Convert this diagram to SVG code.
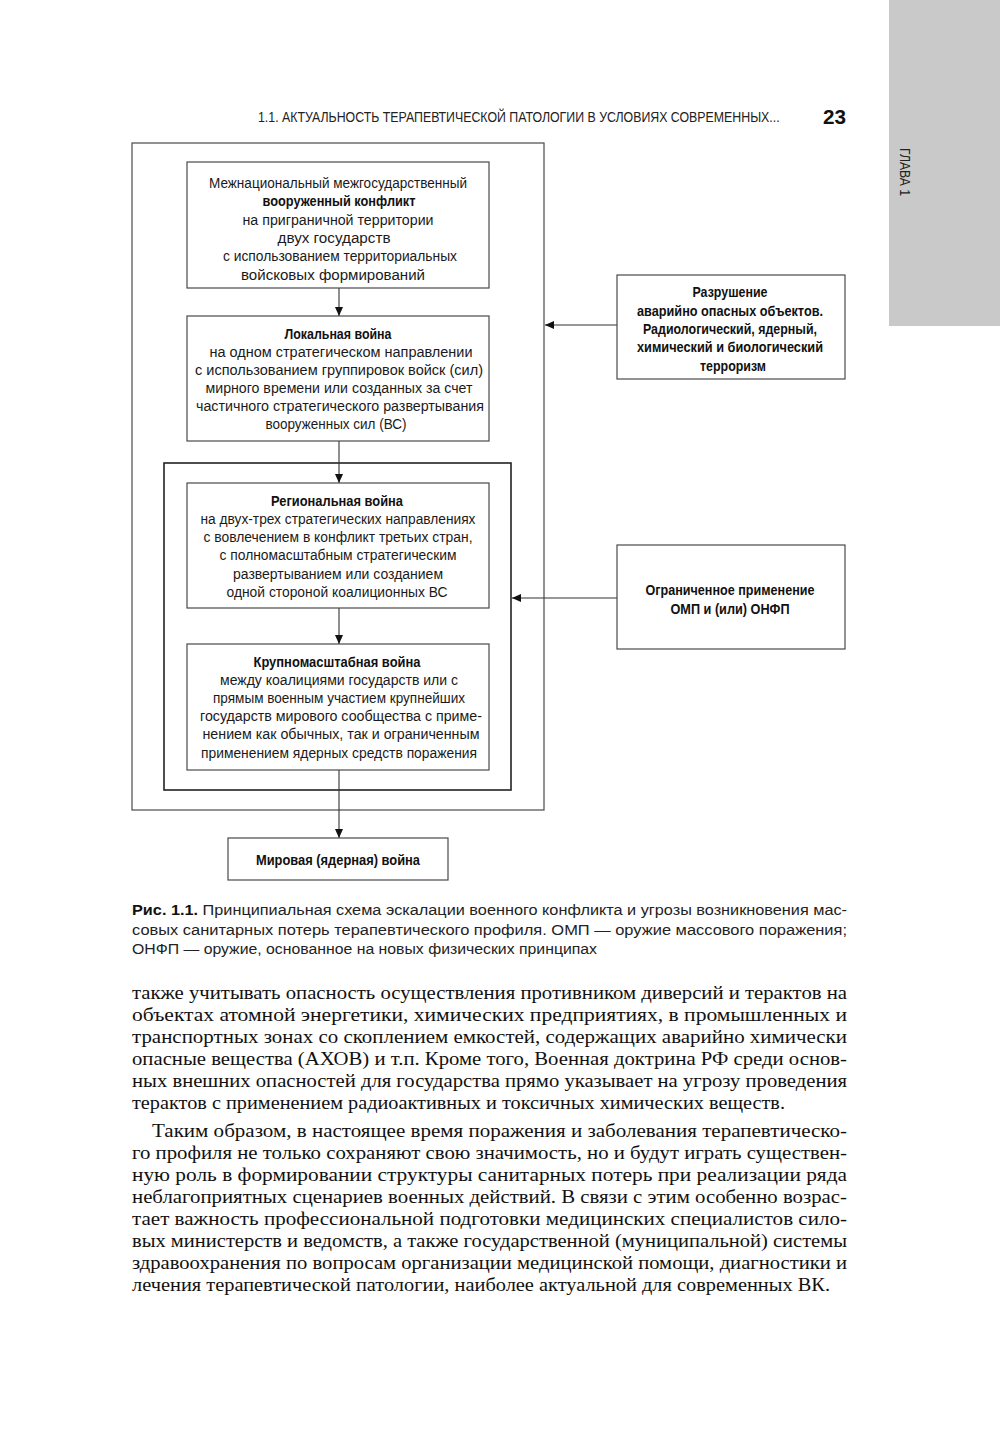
<svg xmlns="http://www.w3.org/2000/svg" width="1000" height="1429" viewBox="0 0 1000 1429">
<style>
.bg{fill:#ffffff}
.box{fill:#ffffff;stroke:#4a4a4a;stroke-width:1.2}
.frame{fill:none;stroke:#4a4a4a;stroke-width:1.2}
.frame2{fill:none;stroke:#222;stroke-width:1.6}
.t{font-family:"Liberation Sans Narrow","Liberation Sans",Arial,sans-serif;font-size:15.5px;fill:#1a1a1a;text-anchor:middle}
.b{font-weight:bold;fill:#111}
.cap{font-family:"Liberation Sans Narrow","Liberation Sans",Arial,sans-serif;font-size:15.5px;fill:#222}
.hdr{font-family:"Liberation Sans Narrow","Liberation Sans",Arial,sans-serif;font-size:14px;fill:#222}
.body{font-family:"Liberation Serif","Times New Roman",serif;font-size:19px;fill:#111}
.conn{stroke:#333;stroke-width:1.1;fill:none}
</style>
<defs>
<marker id="ah" markerWidth="10" markerHeight="8" refX="9" refY="4" orient="auto" markerUnits="userSpaceOnUse">
<path d="M0,0 L9,4 L0,8 Z" fill="#111"/>
</marker>
</defs>
<rect class="bg" x="0" y="0" width="1000" height="1429"/>

<!-- Page decorations -->
<rect x="889" y="0" width="111" height="326" fill="#c9c9c9"/>
<text class="hdr" transform="translate(900,148) rotate(90)" font-size="13" textLength="48" lengthAdjust="spacingAndGlyphs">ГЛАВА 1</text>
<text class="hdr" transform="translate(258,122) scale(0.8,1)" x="0" y="0" textLength="652" lengthAdjust="spacingAndGlyphs">1.1. АКТУАЛЬНОСТЬ ТЕРАПЕВТИЧЕСКОЙ ПАТОЛОГИИ В УСЛОВИЯХ СОВРЕМЕННЫХ...</text>
<text x="823" y="124" font-family="Liberation Sans Narrow,Liberation Sans,Arial,sans-serif" font-size="20" font-weight="bold" fill="#111" textLength="23" lengthAdjust="spacingAndGlyphs">23</text>

<!-- Frames -->
<rect class="frame" x="132" y="143" width="412" height="667"/>
<rect class="frame2" x="164" y="463" width="347" height="327"/>

<!-- Connectors -->
<g id="connectors">
<line class="conn" x1="339" y1="288" x2="339" y2="316" marker-end="url(#ah)"/>
<line class="conn" x1="339" y1="441" x2="339" y2="483" marker-end="url(#ah)"/>
<line class="conn" x1="339" y1="608" x2="339" y2="644" marker-end="url(#ah)"/>
<line class="conn" x1="339" y1="770" x2="339" y2="838" marker-end="url(#ah)"/>
<line class="conn" x1="617" y1="325" x2="545" y2="325" marker-end="url(#ah)"/>
<line class="conn" x1="617" y1="598" x2="512" y2="598" marker-end="url(#ah)"/>
</g>

<g id="node1">
<rect class="box" x="187" y="162" width="302" height="126"/>
<text class="t" x="338" y="188" textLength="258" lengthAdjust="spacingAndGlyphs">Межнациональный межгосударственный</text>
<text class="t b" x="339" y="206" textLength="153" lengthAdjust="spacingAndGlyphs">вооруженный конфликт</text>
<text class="t" x="338" y="224.5" textLength="191" lengthAdjust="spacingAndGlyphs">на приграничной территории</text>
<text class="t" x="334" y="243" textLength="113" lengthAdjust="spacingAndGlyphs">двух государств</text>
<text class="t" x="340" y="261" textLength="234" lengthAdjust="spacingAndGlyphs">с использованием территориальных</text>
<text class="t" x="333" y="279.5" textLength="184" lengthAdjust="spacingAndGlyphs">войсковых формирований</text>
</g>

<g id="node2">
<rect class="box" x="187" y="316" width="302" height="125"/>
<text class="t b" x="338" y="339" textLength="107" lengthAdjust="spacingAndGlyphs">Локальная война</text>
<text class="t" x="341" y="357" textLength="263" lengthAdjust="spacingAndGlyphs">на одном стратегическом  направлении</text>
<text class="t" x="339" y="375" textLength="288" lengthAdjust="spacingAndGlyphs">с использованием группировок войск (сил)</text>
<text class="t" x="339" y="393" textLength="267" lengthAdjust="spacingAndGlyphs">мирного времени или созданных за счет</text>
<text class="t" x="340" y="411" textLength="288" lengthAdjust="spacingAndGlyphs">частичного стратегического развертывания</text>
<text class="t" x="336" y="429" textLength="141" lengthAdjust="spacingAndGlyphs">вооруженных сил (ВС)</text>
</g>

<g id="node3">
<rect class="box" x="187" y="483" width="302" height="125"/>
<text class="t b" x="337" y="506" textLength="132" lengthAdjust="spacingAndGlyphs">Региональная война</text>
<text class="t" x="338" y="524" textLength="275" lengthAdjust="spacingAndGlyphs">на двух-трех стратегических направлениях</text>
<text class="t" x="338" y="542" textLength="269" lengthAdjust="spacingAndGlyphs">с вовлечением в конфликт третьих стран,</text>
<text class="t" x="338" y="560" textLength="237" lengthAdjust="spacingAndGlyphs">с полномасштабным стратегическим</text>
<text class="t" x="338" y="578.5" textLength="210" lengthAdjust="spacingAndGlyphs">развертыванием или созданием</text>
<text class="t" x="337" y="597" textLength="221" lengthAdjust="spacingAndGlyphs">одной стороной коалиционных ВС</text>
</g>

<g id="node4">
<rect class="box" x="187" y="644" width="302" height="126"/>
<text class="t b" x="337" y="667" textLength="167" lengthAdjust="spacingAndGlyphs">Крупномасштабная война</text>
<text class="t" x="339" y="685" textLength="238" lengthAdjust="spacingAndGlyphs">между коалициями государств или с</text>
<text class="t" x="339" y="703" textLength="252" lengthAdjust="spacingAndGlyphs">прямым военным участием крупнейших</text>
<text class="t" x="341" y="721" textLength="282" lengthAdjust="spacingAndGlyphs">государств мирового сообщества с приме-</text>
<text class="t" x="341" y="739" textLength="277" lengthAdjust="spacingAndGlyphs">нением как обычных, так и ограниченным</text>
<text class="t" x="339" y="757.5" textLength="276" lengthAdjust="spacingAndGlyphs">применением ядерных средств поражения</text>
</g>

<g id="node5">
<rect class="box" x="228" y="838" width="220" height="42"/>
<text class="t b" x="338" y="865" textLength="164" lengthAdjust="spacingAndGlyphs">Мировая (ядерная) война</text>
</g>

<g id="node6">
<rect class="box" x="617" y="275" width="228" height="104"/>
<text class="t b" x="730" y="297" textLength="75" lengthAdjust="spacingAndGlyphs">Разрушение</text>
<text class="t b" x="730" y="315.5" textLength="186" lengthAdjust="spacingAndGlyphs">аварийно опасных объектов.</text>
<text class="t b" x="730" y="334" textLength="174" lengthAdjust="spacingAndGlyphs">Радиологический, ядерный,</text>
<text class="t b" x="730" y="352" textLength="186" lengthAdjust="spacingAndGlyphs">химический и биологический</text>
<text class="t b" x="733" y="370.5" textLength="66" lengthAdjust="spacingAndGlyphs">терроризм</text>
</g>

<g id="node7">
<rect class="box" x="617" y="545" width="228" height="104"/>
<text class="t b" x="730" y="595" textLength="169" lengthAdjust="spacingAndGlyphs">Ограниченное применение</text>
<text class="t b" x="730" y="613.5" textLength="119" lengthAdjust="spacingAndGlyphs">ОМП и (или) ОНФП</text>
</g>

<!-- Caption -->
<text class="cap" x="132" y="915" textLength="715" lengthAdjust="spacingAndGlyphs"><tspan font-weight="bold" fill="#111">Рис. 1.1.</tspan> Принципиальная схема эскалации военного конфликта и угрозы возникновения мас-</text>
<text class="cap" x="132" y="934.5" textLength="715" lengthAdjust="spacingAndGlyphs">совых санитарных потерь терапевтического профиля. ОМП — оружие массового поражения;</text>
<text class="cap" x="132" y="954" textLength="465" lengthAdjust="spacingAndGlyphs">ОНФП — оружие, основанное на новых физических принципах</text>

<!-- Body text -->
<text class="body" x="132" y="999" textLength="715" lengthAdjust="spacingAndGlyphs">также учитывать опасность осуществления противником диверсий и терактов на</text>
<text class="body" x="132" y="1021" textLength="715" lengthAdjust="spacingAndGlyphs">объектах атомной энергетики, химических предприятиях, в промышленных и</text>
<text class="body" x="132" y="1043" textLength="715" lengthAdjust="spacingAndGlyphs">транспортных зонах со скоплением емкостей, содержащих аварийно химически</text>
<text class="body" x="132" y="1065" textLength="715" lengthAdjust="spacingAndGlyphs">опасные вещества (АХОВ) и т.п. Кроме того, Военная доктрина РФ среди основ-</text>
<text class="body" x="132" y="1087" textLength="715" lengthAdjust="spacingAndGlyphs">ных внешних опасностей для государства прямо указывает на угрозу проведения</text>
<text class="body" x="132" y="1109" textLength="653" lengthAdjust="spacingAndGlyphs">терактов с применением радиоактивных и токсичных химических веществ.</text>
<text class="body" x="152" y="1137" textLength="695" lengthAdjust="spacingAndGlyphs">Таким образом, в настоящее время поражения и заболевания терапевтическо-</text>
<text class="body" x="132" y="1159" textLength="715" lengthAdjust="spacingAndGlyphs">го профиля не только сохраняют свою значимость, но и будут играть существен-</text>
<text class="body" x="132" y="1181" textLength="715" lengthAdjust="spacingAndGlyphs">ную роль в формировании структуры санитарных потерь при реализации ряда</text>
<text class="body" x="132" y="1203" textLength="715" lengthAdjust="spacingAndGlyphs">неблагоприятных сценариев военных действий. В связи с этим особенно возрас-</text>
<text class="body" x="132" y="1225" textLength="715" lengthAdjust="spacingAndGlyphs">тает важность профессиональной подготовки медицинских специалистов сило-</text>
<text class="body" x="132" y="1247" textLength="715" lengthAdjust="spacingAndGlyphs">вых министерств и ведомств, а также государственной (муниципальной) системы</text>
<text class="body" x="132" y="1269" textLength="715" lengthAdjust="spacingAndGlyphs">здравоохранения по вопросам организации медицинской помощи, диагностики и</text>
<text class="body" x="132" y="1291" textLength="698" lengthAdjust="spacingAndGlyphs">лечения терапевтической патологии, наиболее актуальной для современных ВК.</text>
</svg>
